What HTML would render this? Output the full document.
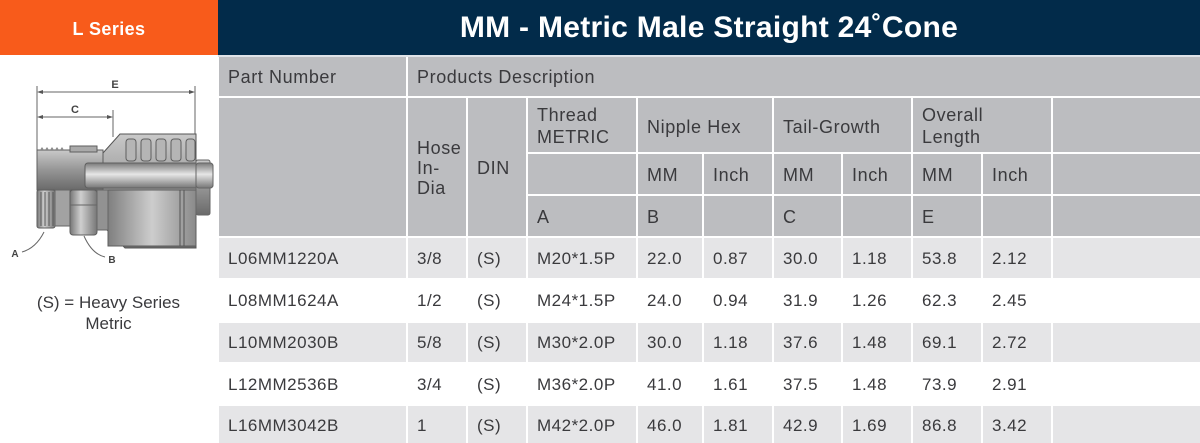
<!DOCTYPE html>
<html>
<head>
<meta charset="utf-8">
<style>
  html,body{margin:0;padding:0;}
  body{width:1200px;height:443px;overflow:hidden;background:#fff;position:relative;font-family:"Liberation Sans",sans-serif;}
  .a{position:absolute;}
  .hl{position:absolute;height:2px;background:#fff;}
  .vl{position:absolute;width:2px;background:#fff;}
  .h{position:absolute;font-size:18px;letter-spacing:0.6px;color:#3a3a3d;line-height:20px;white-space:nowrap;}
  .d{position:absolute;font-size:17px;letter-spacing:0.5px;color:#3a3a3d;line-height:20px;white-space:nowrap;}
</style>
</head>
<body>
  <!-- top bars -->
  <div class="a" style="left:0;top:0;width:218px;height:55px;background:#f85b1b;"></div>
  <div class="a" style="left:0;top:18px;width:218px;text-align:center;color:#fff;font-weight:bold;font-size:18px;letter-spacing:0.4px;line-height:22px;">L Series</div>
  <div class="a" style="left:218px;top:0;width:982px;height:55px;background:#022b4a;"></div>
  <div class="a" style="left:218px;top:11px;width:982px;text-align:center;color:#fff;font-weight:bold;font-size:30px;letter-spacing:0.3px;line-height:34px;">MM - Metric Male Straight 24˚Cone</div>
  <div class="a" style="left:218px;top:55px;width:982px;height:2px;background:#dfe3e8;"></div>

  <!-- header gray -->
  <div class="a" style="left:219px;top:57px;width:981px;height:180px;background:#bcbdc0;"></div>

  <!-- data rows -->
  <div class="a" style="left:219px;top:238px;width:981px;height:40px;background:#e5e5e7;"></div>
  <div class="a" style="left:219px;top:323px;width:981px;height:39px;background:#e5e5e7;"></div>
  <div class="a" style="left:219px;top:406px;width:981px;height:37px;background:#e5e5e7;"></div>

  <!-- grid lines -->
  <div class="hl" style="left:219px;top:96px;width:981px;"></div>
  <div class="hl" style="left:526px;top:152px;width:674px;"></div>
  <div class="hl" style="left:526px;top:194px;width:674px;"></div>
  <div class="hl" style="left:219px;top:236px;width:981px;"></div>
  <div class="vl" style="left:406px;top:57px;height:386px;"></div>
  <div class="vl" style="left:466px;top:97px;height:346px;"></div>
  <div class="vl" style="left:526px;top:97px;height:346px;"></div>
  <div class="vl" style="left:636px;top:97px;height:346px;"></div>
  <div class="vl" style="left:772px;top:97px;height:346px;"></div>
  <div class="vl" style="left:911px;top:97px;height:346px;"></div>
  <div class="vl" style="left:1051px;top:97px;height:346px;"></div>
  <div class="vl" style="left:702px;top:153px;height:290px;"></div>
  <div class="vl" style="left:841px;top:153px;height:290px;"></div>
  <div class="vl" style="left:981px;top:153px;height:290px;"></div>

  <!-- header text -->
  <div class="h" style="left:228px;top:67px;">Part Number</div>
  <div class="h" style="left:417px;top:67px;">Products Description</div>
  <div class="h" style="left:417px;top:138px;">Hose<br>In-<br>Dia</div>
  <div class="h" style="left:477px;top:158px;">DIN</div>
  <div class="h" style="left:537px;top:104px;line-height:22px;">Thread<br>METRIC</div>
  <div class="h" style="left:647px;top:117px;">Nipple Hex</div>
  <div class="h" style="left:783px;top:117px;">Tail-Growth</div>
  <div class="h" style="left:922px;top:104px;line-height:22px;">Overall<br>Length</div>
  <div class="h" style="left:647px;top:165px;">MM</div>
  <div class="h" style="left:713px;top:165px;">Inch</div>
  <div class="h" style="left:783px;top:165px;">MM</div>
  <div class="h" style="left:852px;top:165px;">Inch</div>
  <div class="h" style="left:922px;top:165px;">MM</div>
  <div class="h" style="left:992px;top:165px;">Inch</div>
  <div class="h" style="left:537px;top:207px;">A</div>
  <div class="h" style="left:647px;top:207px;">B</div>
  <div class="h" style="left:783px;top:207px;">C</div>
  <div class="h" style="left:922px;top:207px;">E</div>

  <!-- data text row 1 -->
  <div class="d" style="left:228px;top:249px;">L06MM1220A</div>
  <div class="d" style="left:417px;top:249px;">3/8</div>
  <div class="d" style="left:477px;top:249px;">(S)</div>
  <div class="d" style="left:537px;top:249px;">M20*1.5P</div>
  <div class="d" style="left:647px;top:249px;">22.0</div>
  <div class="d" style="left:713px;top:249px;">0.87</div>
  <div class="d" style="left:783px;top:249px;">30.0</div>
  <div class="d" style="left:852px;top:249px;">1.18</div>
  <div class="d" style="left:922px;top:249px;">53.8</div>
  <div class="d" style="left:992px;top:249px;">2.12</div>
  <!-- row 2 -->
  <div class="d" style="left:228px;top:291px;">L08MM1624A</div>
  <div class="d" style="left:417px;top:291px;">1/2</div>
  <div class="d" style="left:477px;top:291px;">(S)</div>
  <div class="d" style="left:537px;top:291px;">M24*1.5P</div>
  <div class="d" style="left:647px;top:291px;">24.0</div>
  <div class="d" style="left:713px;top:291px;">0.94</div>
  <div class="d" style="left:783px;top:291px;">31.9</div>
  <div class="d" style="left:852px;top:291px;">1.26</div>
  <div class="d" style="left:922px;top:291px;">62.3</div>
  <div class="d" style="left:992px;top:291px;">2.45</div>
  <!-- row 3 -->
  <div class="d" style="left:228px;top:333px;">L10MM2030B</div>
  <div class="d" style="left:417px;top:333px;">5/8</div>
  <div class="d" style="left:477px;top:333px;">(S)</div>
  <div class="d" style="left:537px;top:333px;">M30*2.0P</div>
  <div class="d" style="left:647px;top:333px;">30.0</div>
  <div class="d" style="left:713px;top:333px;">1.18</div>
  <div class="d" style="left:783px;top:333px;">37.6</div>
  <div class="d" style="left:852px;top:333px;">1.48</div>
  <div class="d" style="left:922px;top:333px;">69.1</div>
  <div class="d" style="left:992px;top:333px;">2.72</div>
  <!-- row 4 -->
  <div class="d" style="left:228px;top:375px;">L12MM2536B</div>
  <div class="d" style="left:417px;top:375px;">3/4</div>
  <div class="d" style="left:477px;top:375px;">(S)</div>
  <div class="d" style="left:537px;top:375px;">M36*2.0P</div>
  <div class="d" style="left:647px;top:375px;">41.0</div>
  <div class="d" style="left:713px;top:375px;">1.61</div>
  <div class="d" style="left:783px;top:375px;">37.5</div>
  <div class="d" style="left:852px;top:375px;">1.48</div>
  <div class="d" style="left:922px;top:375px;">73.9</div>
  <div class="d" style="left:992px;top:375px;">2.91</div>
  <!-- row 5 -->
  <div class="d" style="left:228px;top:416px;">L16MM3042B</div>
  <div class="d" style="left:417px;top:416px;">1</div>
  <div class="d" style="left:477px;top:416px;">(S)</div>
  <div class="d" style="left:537px;top:416px;">M42*2.0P</div>
  <div class="d" style="left:647px;top:416px;">46.0</div>
  <div class="d" style="left:713px;top:416px;">1.81</div>
  <div class="d" style="left:783px;top:416px;">42.9</div>
  <div class="d" style="left:852px;top:416px;">1.69</div>
  <div class="d" style="left:922px;top:416px;">86.8</div>
  <div class="d" style="left:992px;top:416px;">3.42</div>

  <!-- fitting drawing -->
  <svg class="a" style="left:0;top:55px;" width="218" height="240" viewBox="0 55 218 240">
    <defs>
      <linearGradient id="gv" x1="0" y1="0" x2="0" y2="1">
        <stop offset="0" stop-color="#c9c9c9"/>
        <stop offset="0.5" stop-color="#959595"/>
        <stop offset="1" stop-color="#6a6a6a"/>
      </linearGradient>
      <linearGradient id="gt" x1="0" y1="0" x2="0" y2="1">
        <stop offset="0" stop-color="#7a7a7a"/>
        <stop offset="0.45" stop-color="#e6e6e6"/>
        <stop offset="1" stop-color="#777"/>
      </linearGradient>
      <linearGradient id="gh" x1="0" y1="0" x2="1" y2="0">
        <stop offset="0" stop-color="#777"/>
        <stop offset="0.4" stop-color="#cfcfcf"/>
        <stop offset="1" stop-color="#777"/>
      </linearGradient>
      <linearGradient id="gb" x1="0" y1="0" x2="1" y2="0">
        <stop offset="0" stop-color="#7f7f7f"/>
        <stop offset="0.5" stop-color="#cdcdcd"/>
        <stop offset="1" stop-color="#8a8a8a"/>
      </linearGradient>
    </defs>
    <!-- dimension lines -->
    <g stroke="#666" stroke-width="1" fill="none">
      <line x1="37" y1="86" x2="37" y2="150"/>
      <line x1="195" y1="86" x2="195" y2="135"/>
      <line x1="113" y1="110" x2="113" y2="137"/>
      <line x1="39" y1="92" x2="193" y2="92"/>
      <line x1="39" y1="117" x2="111" y2="117"/>
    </g>
    <g fill="#555">
      <polygon points="37,92 43,90 43,94"/>
      <polygon points="195,92 189,90 189,94"/>
      <polygon points="37,117 43,115 43,119"/>
      <polygon points="113,117 107,115 107,119"/>
    </g>
    <text x="115" y="88" font-family="Liberation Sans, sans-serif" font-size="11" font-weight="bold" fill="#444" text-anchor="middle">E</text>
    <text x="75" y="113" font-family="Liberation Sans, sans-serif" font-size="11" font-weight="bold" fill="#444" text-anchor="middle">C</text>

    <!-- ferrule -->
    <polygon points="103,153 120,134 196,134 196,248 125,248 105,228 100,190" fill="url(#gv)" stroke="#555" stroke-width="1"/>
    <g fill="#b5b5b5" stroke="#5e5e5e" stroke-width="1">
      <rect x="126" y="139" width="10" height="22" rx="3"/>
      <rect x="141" y="139" width="10" height="22" rx="3"/>
      <rect x="156" y="139" width="10" height="22" rx="3"/>
      <rect x="171" y="139" width="10" height="22" rx="3"/>
      <rect x="186" y="139" width="9" height="22" rx="3"/>
    </g>
    <!-- lower ferrule body -->
    <rect x="108" y="190" width="88" height="56" fill="url(#gb)" stroke="#5e5e5e"/>
    <line x1="180" y1="190" x2="180" y2="246" stroke="#555"/>
    <line x1="184" y1="190" x2="184" y2="246" stroke="#555"/>
    <!-- nipple upper -->
    <rect x="37" y="150" width="66" height="40" fill="url(#gv)" stroke="#5e5e5e"/>
    <g fill="#888">
      <polygon points="40,150 42,147 44,150"/>
      <polygon points="45,150 47,147 49,150"/>
      <polygon points="50,150 52,147 54,150"/>
      <polygon points="55,150 57,147 59,150"/>
      <polygon points="60,150 62,147 64,150"/>
    </g>
    <rect x="70" y="146" width="27" height="6" fill="#aaa" stroke="#5e5e5e"/>
    <!-- tube -->
    <rect x="85" y="163" width="128" height="25" rx="3" fill="url(#gt)" stroke="#5e5e5e"/>
    <rect x="196" y="160" width="14" height="55" rx="2" fill="url(#gv)" stroke="#666"/>
    <rect x="196" y="163" width="17" height="25" rx="3" fill="url(#gt)" stroke="#666"/>
    <!-- lower left thread -->
    <rect x="37" y="190" width="18" height="38" rx="2" fill="url(#gh)" stroke="#5e5e5e"/>
    <g stroke="#555" stroke-width="1">
      <line x1="41" y1="192" x2="41" y2="226"/>
      <line x1="45" y1="192" x2="45" y2="226"/>
      <line x1="49" y1="192" x2="49" y2="226"/>
      <line x1="53" y1="192" x2="53" y2="226"/>
    </g>
    <rect x="55" y="190" width="15" height="36" fill="#a2a2a2" stroke="#666"/>
    <!-- hex B -->
    <rect x="70" y="190" width="27" height="45" rx="3" fill="url(#gh)" stroke="#5e5e5e"/>
    <line x1="70" y1="205" x2="97" y2="205" stroke="#666"/>
    <rect x="97" y="190" width="11" height="40" fill="#929292" stroke="#666"/>
    <!-- leaders -->
    <path d="M44,232 Q36,248 22,252" stroke="#666" fill="none"/>
    <path d="M84,236 Q92,254 105,257" stroke="#666" fill="none"/>
    <text x="15" y="257" font-family="Liberation Sans, sans-serif" font-size="10" font-weight="bold" fill="#444" text-anchor="middle">A</text>
    <text x="112" y="263" font-family="Liberation Sans, sans-serif" font-size="10" font-weight="bold" fill="#444" text-anchor="middle">B</text>
  </svg>

  <div class="a" style="left:0;top:292px;width:217px;text-align:center;font-size:17px;color:#3a3a3d;line-height:21px;">(S) = Heavy Series<br>Metric</div>
</body>
</html>
